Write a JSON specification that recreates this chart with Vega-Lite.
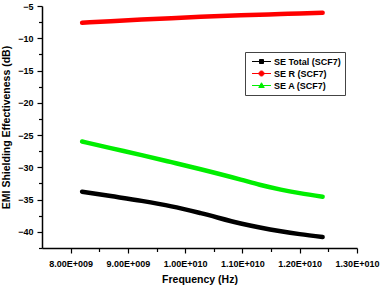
{
  "$schema": "https://vega.github.io/schema/vega-lite/v6.json",
  "autosize": {"type": "none"},
  "width": 315,
  "height": 242,
  "padding": {"left": 42, "top": 6, "right": 29, "bottom": 39},
  "background": "white",
  "config": {
    "view": {"stroke": null},
    "font": "Liberation Sans",
    "axis": {
      "domainColor": "black", "domainWidth": 1.5, "tickColor": "black", "tickWidth": 1.2,
      "labelFont": "Liberation Sans", "labelFontWeight": "bold", "labelFontSize": 9, "labelColor": "black",
      "titleFont": "Liberation Sans", "titleFontWeight": "bold", "titleColor": "black", "grid": false
    }
  },
  "data": {"values": [
    {"f": 8.2e9, "series": "SE Total (SCF7)", "v": -33.77},
    {"f": 8.7e9, "series": "SE Total (SCF7)", "v": -34.45},
    {"f": 9.24e9, "series": "SE Total (SCF7)", "v": -35.2},
    {"f": 9.76e9, "series": "SE Total (SCF7)", "v": -36.05},
    {"f": 10.27e9, "series": "SE Total (SCF7)", "v": -37.1},
    {"f": 10.97e9, "series": "SE Total (SCF7)", "v": -38.7},
    {"f": 11.67e9, "series": "SE Total (SCF7)", "v": -39.9},
    {"f": 12.0e9, "series": "SE Total (SCF7)", "v": -40.35},
    {"f": 12.4e9, "series": "SE Total (SCF7)", "v": -40.8},
    {"f": 8.2e9, "series": "SE R (SCF7)", "v": -7.6},
    {"f": 8.7e9, "series": "SE R (SCF7)", "v": -7.35},
    {"f": 9.24e9, "series": "SE R (SCF7)", "v": -7.1},
    {"f": 9.76e9, "series": "SE R (SCF7)", "v": -6.88},
    {"f": 10.27e9, "series": "SE R (SCF7)", "v": -6.68},
    {"f": 10.97e9, "series": "SE R (SCF7)", "v": -6.45},
    {"f": 11.67e9, "series": "SE R (SCF7)", "v": -6.25},
    {"f": 12.0e9, "series": "SE R (SCF7)", "v": -6.15},
    {"f": 12.4e9, "series": "SE R (SCF7)", "v": -6.05},
    {"f": 8.2e9, "series": "SE A (SCF7)", "v": -26.0},
    {"f": 8.7e9, "series": "SE A (SCF7)", "v": -27.02},
    {"f": 9.24e9, "series": "SE A (SCF7)", "v": -28.1},
    {"f": 9.76e9, "series": "SE A (SCF7)", "v": -29.2},
    {"f": 10.27e9, "series": "SE A (SCF7)", "v": -30.3},
    {"f": 10.97e9, "series": "SE A (SCF7)", "v": -31.9},
    {"f": 11.3e9, "series": "SE A (SCF7)", "v": -32.7},
    {"f": 11.67e9, "series": "SE A (SCF7)", "v": -33.45},
    {"f": 12.0e9, "series": "SE A (SCF7)", "v": -34.0},
    {"f": 12.4e9, "series": "SE A (SCF7)", "v": -34.55}
  ]},
  "encoding": {
    "x": {"field": "f", "type": "quantitative", "scale": {"domain": [7.5e9, 1.3e10], "nice": false, "zero": false},
      "axis": {"orient": "bottom", "values": [8e9, 8.5e9, 9e9, 9.5e9, 10e9, 10.5e9, 11e9, 11.5e9, 12e9, 12.5e9, 13e9],
        "tickSize": {"condition": {"test": "datum.value % 1e9 === 0", "value": 5}, "value": 3.5},
        "labelPadding": 6, "labelOverlap": false, "labelFlush": false,
        "labelExpr": "datum.value % 1e9 !== 0 ? '' : (datum.value < 9.99e9 ? format(datum.value / 1e9, '.2f') + 'E+009' : format(datum.value / 1e10, '.2f') + 'E+010')",
        "title": "Frequency (Hz)", "titleFontSize": 10.5, "titlePadding": 6}},
    "y": {"field": "v", "type": "quantitative", "scale": {"domain": [-42.5, -5], "nice": false, "zero": false},
      "axis": {"orient": "left", "values": [-5, -7.5, -10, -12.5, -15, -17.5, -20, -22.5, -25, -27.5, -30, -32.5, -35, -37.5, -40, -42.5],
        "tickSize": {"condition": {"test": "datum.value % 5 === 0", "value": 5}, "value": 3.5},
        "labelPadding": 4, "labelOverlap": false,
        "labelExpr": "datum.value % 5 === 0 ? format(datum.value, 'd') : ''",
        "title": "EMI Shielding Effectiveness (dB)", "titleFontSize": 10.5, "titlePadding": 6}}
  },
  "layer": [
    {
      "mark": {"type": "point", "opacity": 0, "size": 4, "filled": true, "strokeWidth": 1},
      "encoding": {
        "shape": {"field": "series", "type": "nominal",
          "scale": {"domain": ["SE Total (SCF7)", "SE R (SCF7)", "SE A (SCF7)"],
            "range": ["M-1.9,0H1.9M-0.4,-0.4H0.4V0.4H-0.4Z", "M-1.9,0H1.9M-0.5,0A0.5,0.5 0 1,1 0.5,0A0.5,0.5 0 1,1 -0.5,0Z", "M-1.9,0H1.9M0,-0.55L0.55,0.4H-0.55Z"]},
          "legend": {"title": null, "orient": "none", "legendX": 203, "legendY": 46, "symbolSize": 100, "symbolOpacity": 1, "symbolStrokeWidth": 1,
            "symbolOffset": 7, "labelOffset": 7, "padding": 4, "rowPadding": 1, "strokeColor": "#444", "fillColor": "white",
            "labelFont": "Liberation Sans", "labelFontWeight": "bold", "labelFontSize": 9, "labelColor": "black"}},
        "fill": {"field": "series", "type": "nominal", "scale": {"domain": ["SE Total (SCF7)", "SE R (SCF7)", "SE A (SCF7)"], "range": ["black", "#ff0000", "#00ee00"]}},
        "stroke": {"field": "series", "type": "nominal", "scale": {"domain": ["SE Total (SCF7)", "SE R (SCF7)", "SE A (SCF7)"], "range": ["black", "#ff0000", "#00ee00"]}}
      }
    },
    {
      "mark": {"type": "line", "strokeWidth": 4.5, "strokeCap": "round", "interpolate": "monotone"},
      "encoding": {
        "color": {"field": "series", "type": "nominal", "legend": null,
          "scale": {"domain": ["SE Total (SCF7)", "SE R (SCF7)", "SE A (SCF7)"], "range": ["black", "#ff0000", "#00ee00"]}},
        "detail": {"field": "series"}
      }
    }
  ]
}
